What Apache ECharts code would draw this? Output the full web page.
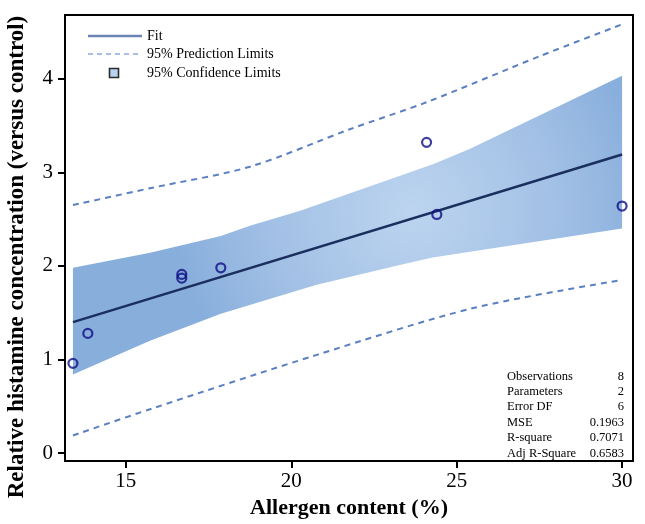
<!DOCTYPE html>
<html>
<head>
<meta charset="utf-8">
<script src="https://cdn.jsdelivr.net/npm/echarts@6/dist/echarts.min.js"></script>
<style>
html,body{margin:0;padding:0;background:#fff;}
#c{width:645px;height:524px;}
</style>
</head>
<body>
<div id="c"></div>
<script>
// Observations
const obsX = [13.40, 13.85, 16.69, 16.69, 17.87, 24.09, 24.40, 30.00];
const obsY = [0.96, 1.28, 1.91, 1.87, 1.98, 3.32, 2.55, 2.64];
// Fit line
const fitX = [13.40, 30.00];
const fitY = [1.40, 3.19];
// 95% confidence limits
const ciUpperX = [13.40, 15.73, 17.87, 18.75, 20.27, 24.30, 25.39, 30.00];
const ciUpperY = [1.98, 2.14, 2.32, 2.43, 2.59, 3.09, 3.25, 4.03];
const ciLowerX = [13.40, 15.73, 17.87, 20.77, 23.28, 24.27, 30.00];
const ciLowerY = [0.84, 1.20, 1.49, 1.80, 2.01, 2.09, 2.40];
// 95% prediction limits
const piUpperX = [13.40, 15.73, 18.75, 21.77, 24.10, 27.51, 30.00];
const piUpperY = [2.65, 2.83, 3.06, 3.46, 3.75, 4.24, 4.58];
const piLowerX = [13.40, 15.73, 20.77, 25.50, 30.00];
const piLowerY = [0.19, 0.47, 1.05, 1.55, 1.85];
// Ticks
const xTicks = [15, 20, 25, 30];
const yTicks = [0, 1, 2, 3, 4];
// Legend and statistics
const legendLabels = ['Fit', '95% Prediction Limits', '95% Confidence Limits'];
const statNames = ['Observations', 'Parameters', 'Error DF', 'MSE', 'R-square', 'Adj R-Square'];
const statValues = ['8', '2', '6', '0.1963', '0.7071', '0.6583'];

const pairs = (xs, ys) => xs.map((x, i) => [x, ys[i]]);
const FONT = "'Liberation Serif', 'DejaVu Serif', serif";

const chart = echarts.init(document.getElementById('c'));

const graphics = [];
// legend
graphics.push({type:'line', shape:{x1:88,y1:36,x2:142,y2:36}, style:{stroke:'#6b86b5', lineWidth:2.5}});
graphics.push({type:'line', shape:{x1:88,y1:54,x2:142,y2:54}, style:{stroke:'#8ea8e0', lineWidth:1.6, lineDash:[5,4]}});
graphics.push({type:'rect', shape:{x:109.5,y:68.5,width:9,height:9}, style:{fill:'#b9d3ef', stroke:'#2b2b2b', lineWidth:1.6}});
const legY = [36, 54, 73];
legendLabels.forEach((t, i) => {
  graphics.push({type:'text', x:147, y:legY[i], style:{text:t, font:"14px " + FONT, fill:'#000', textAlign:'left', textVerticalAlign:'middle'}});
});
// statistics
const statY = [377, 392, 407, 423, 438, 454];
statNames.forEach((t, i) => {
  graphics.push({type:'text', x:507, y:statY[i], style:{text:t, font:"12.5px " + FONT, fill:'#000', textAlign:'left', textVerticalAlign:'middle'}});
  graphics.push({type:'text', x:624, y:statY[i], style:{text:statValues[i], font:"12.5px " + FONT, fill:'#000', textAlign:'right', textVerticalAlign:'middle'}});
});
// y axis title
graphics.push({type:'text', x:17, y:257, rotation:Math.PI/2, style:{text:'Relative histamine concentration (versus control)', font:"bold 23px " + FONT, fill:'#000', textAlign:'center', textVerticalAlign:'middle'}});

const option = {
  animation: false,
  backgroundColor: '#fff',
  grid: {left:65, right:12, top:15, bottom:54, show:true, borderColor:'#000', borderWidth:2, backgroundColor:'transparent'},
  xAxis: {
    type:'value', min:13.16, max:30.33,
    name:'Allergen content (%)', nameLocation:'middle', nameGap:35,
    nameTextStyle:{fontFamily:FONT, fontWeight:'bold', fontSize:22, color:'#000'},
    axisLine:{show:true, onZero:false, lineStyle:{color:'#000', width:2}},
    axisTick:{show:true, inside:false, length:7, lineStyle:{color:'#000', width:2}, customValues:xTicks},
    axisLabel:{show:true, customValues:xTicks, fontFamily:FONT, fontSize:21, color:'#000', margin:10},
    splitLine:{show:false}
  },
  yAxis: {
    type:'value', min:-0.084, max:4.68,
    axisLine:{show:true, onZero:false, lineStyle:{color:'#000', width:2}},
    axisTick:{show:true, inside:false, length:7, lineStyle:{color:'#000', width:2}, customValues:yTicks},
    axisLabel:{show:true, customValues:yTicks, fontFamily:FONT, fontSize:21, color:'#000', margin:12},
    splitLine:{show:false}
  },
  graphic: graphics,
  series: [
    {
      type:'custom', z:1, silent:true,
      data:[[ciUpperX[0], ciUpperY[0]]],
      renderItem: function(params, api) {
        const pts = [];
        for (let i = 0; i < ciUpperX.length; i++) pts.push(api.coord([ciUpperX[i], ciUpperY[i]]));
        for (let i = ciLowerX.length - 1; i >= 0; i--) pts.push(api.coord([ciLowerX[i], ciLowerY[i]]));
        return {type:'polygon', shape:{points:pts},
          style:{fill:new echarts.graphic.RadialGradient(0.62, 0.45, 0.8, [
            {offset:0, color:'#bcd4ef'}, {offset:0.6, color:'#a2c0e5'}, {offset:1, color:'#88aedc'}])}};
      }
    },
    {type:'line', z:2, data:pairs(piUpperX, piUpperY), smooth:0.3, symbol:'none',
      lineStyle:{color:'#5b7fc2', width:2, type:[6,5]}},
    {type:'line', z:2, data:pairs(piLowerX, piLowerY), smooth:0.3, symbol:'none',
      lineStyle:{color:'#5b7fc2', width:2, type:[6,5]}},
    {type:'line', z:3, data:pairs(fitX, fitY), symbol:'none',
      lineStyle:{color:'#1b2f5f', width:2.5}},
    {type:'scatter', z:4, data:pairs(obsX, obsY), symbol:'circle', symbolSize:9,
      itemStyle:{color:'rgba(0,0,0,0)', borderColor:'#0e0e85', borderWidth:2.2}}
  ]
};
chart.setOption(option);
</script>
</body>
</html>
